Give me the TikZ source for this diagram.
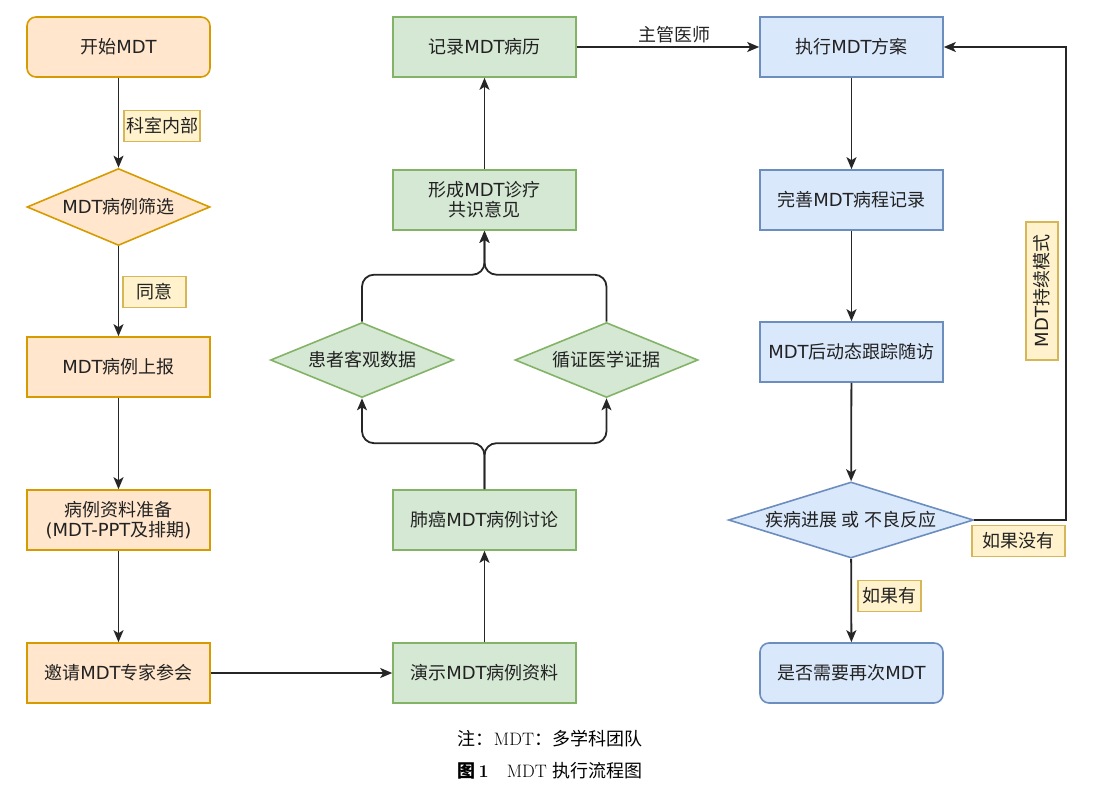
\documentclass[tikz,border=0pt]{standalone}
\usepackage{fontspec}
\newfontfamily\cjk{Noto Sans CJK SC}
\newfontfamily\lat{DejaVu Sans}
\newcommand\mdt{{\lat MDT}}
\usetikzlibrary{shapes.geometric,arrows.meta}
\definecolor{ofill}{HTML}{FFE6CC}\definecolor{oline}{HTML}{D79B00}
\definecolor{gfill}{HTML}{D5E8D4}\definecolor{gline}{HTML}{82B366}
\definecolor{bfill}{HTML}{DAE8FC}\definecolor{bline}{HTML}{6C8EBF}
\definecolor{lfill}{HTML}{FFF2CC}\definecolor{lline}{HTML}{D6B656}
\definecolor{txt}{HTML}{222222}
\begin{document}
\begin{tikzpicture}[x=1pt,y=-1pt,
  base/.style={line width=1.6pt, font=\cjk\fontsize{18}{20}\selectfont, text=txt, align=center},
  box/.style={base, draw, rectangle, minimum width=183pt, minimum height=60pt, inner sep=2pt},
  rbox/.style={box, rounded corners=9pt},
  dia/.style={base, draw, diamond, shape aspect=2.4, inner sep=0pt},
  orange/.style={fill=ofill, draw=oline},
  green/.style={fill=gfill, draw=gline},
  blue/.style={fill=bfill, draw=bline},
  lab/.style={base, line width=1.2pt, draw=lline, fill=lfill, inner sep=1.5pt, minimum height=31pt},
  arr/.style={line width=1.8pt, draw=black!85, -{Stealth[length=12pt,width=10pt,inset=3pt]}},
  captext/.style={font=\fontsize{18}{20}\selectfont, text=black}
]
\useasboundingbox (0,0) rectangle (1100,786);

% left column
\node[rbox, orange] (start) at (118.5,47) {开始\mdt};
\node[dia, orange, minimum width=183pt, minimum height=77pt] (screen) at (118.5,207) {\mdt 病例筛选};
\node[box, orange] (report) at (118.5,367) {\mdt 病例上报};
\node[box, orange] (prep) at (118.5,520) {病例资料准备\\{\lat(MDT-PPT}及排期{\lat)}};
\node[box, orange] (invite) at (118.5,673) {邀请\mdt 专家参会};

% middle column
\node[box, green] (record) at (484.5,47) {记录\mdt 病历};
\node[box, green] (consensus) at (484.5,200) {形成\mdt 诊疗\\共识意见};
\node[dia, green, minimum width=183pt, minimum height=75pt] (patient) at (362,360) {患者客观数据};
\node[dia, green, minimum width=183pt, minimum height=75pt] (evidence) at (606.5,360) {循证医学证据};
\node[box, green] (discuss) at (484.5,520) {肺癌\mdt 病例讨论};
\node[box, green] (present) at (484.5,673) {演示\mdt 病例资料};

% right column
\node[box, blue] (exec) at (851.5,47) {执行\mdt 方案};
\node[box, blue] (course) at (851.5,200) {完善\mdt 病程记录};
\node[box, blue] (follow) at (851.5,352) {\mdt 后动态跟踪随访};
\node[dia, blue, shape aspect=3.2, minimum width=245pt, minimum height=76pt] (prog) at (851,520) {疾病进展 或 不良反应};
\node[rbox, blue] (again) at (851.5,673) {是否需要再次\mdt};

% connectors left
\draw[arr] (start) -- (screen);
\draw[arr] (screen) -- (report);
\draw[arr] (report) -- (prep);
\draw[arr] (prep) -- (invite);
\draw[arr] (invite) -- (present);

% connectors middle
\draw[arr] (present) -- (discuss);
\draw[arr, rounded corners=12pt] (discuss.north) -- ++(0,-46) -| (patient.south);
\draw[arr, rounded corners=12pt] (discuss.north) -- ++(0,-46) -| (evidence.south);
\draw[arr, rounded corners=12pt] (patient.north) -- ++(0,-47) -| (consensus.south);
\draw[arr, rounded corners=12pt] (evidence.north) -- ++(0,-47) -| (consensus.south);
\draw[arr] (consensus) -- (record);
\draw[arr] (record) -- node[base, above, inner sep=3pt, xshift=6pt] (doctor) {主管医师} (exec);

% connectors right
\draw[arr] (exec) -- (course);
\draw[arr] (course) -- (follow);
\draw[arr] (follow) -- (prog);
\draw[arr] (prog) -- (again);
\draw[arr] (prog.east) -- ++(92,0) |- (exec.east);

% edge labels
\node[lab, minimum width=76pt] (l1) at (162,126) {科室内部};
\node[lab, minimum width=63pt] (l2) at (154.5,292) {同意};
\node[lab, minimum width=63pt] (l3) at (889.5,596) {如果有};
\node[lab, minimum width=93pt] (l4) at (1018.5,541) {如果没有};
\node[lab, rotate=90, minimum width=138pt, minimum height=32pt] (l5) at (1042,291) {\mdt 持续模式};

% caption
\node[captext] (note) at (550,739) {{\cjk 注：}MDT{\cjk ：多学科团队}};
\node[captext] (title) at (550,771) {{\cjk\bfseries 图}\,\textbf{1}\quad MDT {\cjk 执行流程图}};
\end{tikzpicture}
\end{document}
